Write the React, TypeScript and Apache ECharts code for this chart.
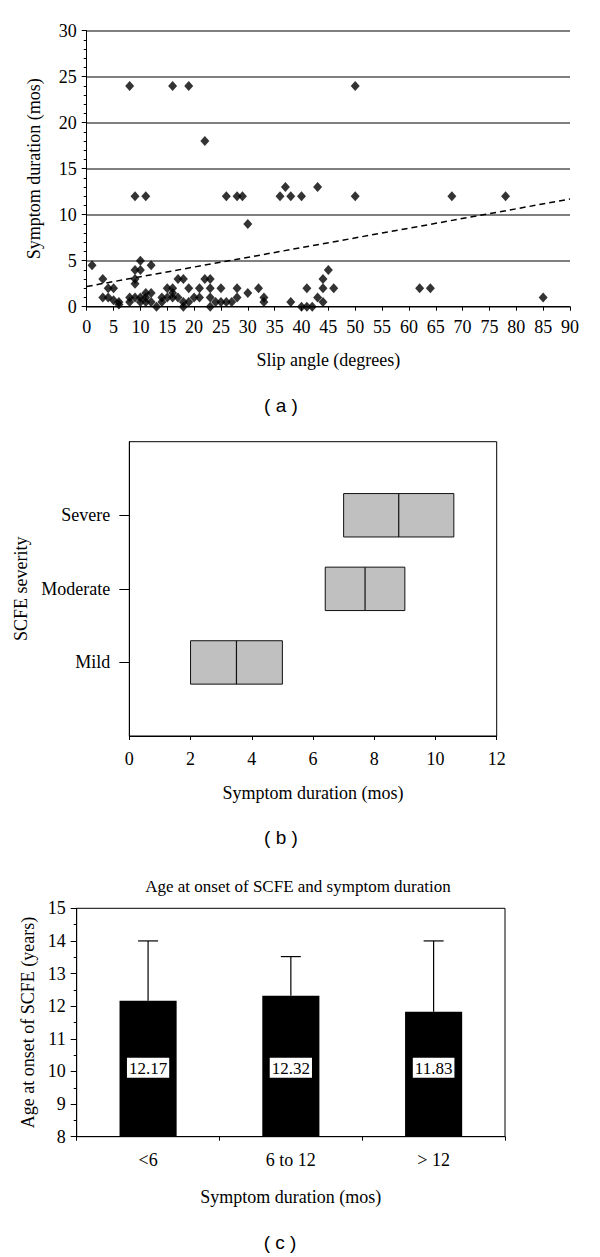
import React, { useEffect, useRef } from "react";
import * as echarts from "echarts";

// ---- Panel (a): slip angle vs symptom duration ----
const slipAngle = [
  8, 16, 19, 50, 22, 37, 43, 9, 11, 26, 28, 29, 36, 38, 40, 50, 68, 78, 30,
  1, 3, 4, 5, 3, 4, 5, 6, 6, 8, 8, 9, 10, 10, 9, 9, 12, 9, 10, 11, 10, 11, 11, 12, 12,
  13, 14, 14, 15, 16, 17, 18, 15, 16, 16, 17, 18, 18, 19, 19, 20, 21, 21,
  22, 23, 23, 23, 23, 24, 25, 25, 26, 27, 28, 28, 30, 32, 33, 33,
  38, 40, 41, 42, 41, 43, 44, 44, 44, 45, 46, 62, 64, 85,
];
const durationMos = [
  24, 24, 24, 24, 18, 13, 13, 12, 12, 12, 12, 12, 12, 12, 12, 12, 12, 12, 9,
  4.5, 3, 2, 2, 1, 1, 0.7, 0.5, 0.25, 0.5, 1, 4, 4, 5, 3, 2.5, 4.5, 1, 1, 1, 0.5, 0.5, 1.5, 1.5, 0.5,
  0, 0.5, 1, 2, 2, 3, 3, 1, 1.5, 1, 1, 0.5, 0, 2, 0.5, 1, 2, 1,
  3, 3, 2, 1, 0, 0.5, 2, 0.5, 0.5, 0.5, 2, 1, 1.5, 2, 1, 0.5,
  0.5, 0, 0, 0, 2, 1, 0.5, 2, 3, 4, 2, 2, 2, 1,
];
const trendX = [0, 90];
const trendY = [2.2, 11.7];

// ---- Panel (b): SCFE severity boxes ----
const severityLabels = ["Mild", "Moderate", "Severe"];
const severityPos = [1, 2, 3];
const boxQ1 = [2, 6.4, 7];
const boxMedian = [3.5, 7.7, 8.8];
const boxQ3 = [5, 9, 10.6];

// ---- Panel (c): age at onset ----
const durationGroups = ["<6", "6 to 12", "> 12"];
const meanAge = [12.17, 12.32, 11.83];
const upperAge = [14, 13.52, 14];

const SERIF = "'Liberation Serif', 'Times New Roman', serif";
const SANS = "'Liberation Sans', Arial, sans-serif";

export default function App() {
  const ref = useRef<HTMLDivElement>(null);

  useEffect(() => {
    if (!ref.current) return;
    const chart = echarts.init(ref.current, undefined, { renderer: "svg" });

    const scatterData = slipAngle.map((x, i) => [x, durationMos[i]]);
    const trendData = trendX.map((x, i) => [x, trendY[i]]);
    const boxData = severityPos.map((p, i) => [boxQ1[i], boxMedian[i], boxQ3[i], p]);
    const errData = durationGroups.map((_, i) => [i, meanAge[i], upperAge[i]]);

    const axisText = { color: "#000", fontFamily: SERIF, fontSize: 18 };
    const nameText = { color: "#000", fontFamily: SERIF, fontSize: 18 };

    const option: any = {
      animation: false,
      backgroundColor: "#fff",
      title: [
        {
          text: "Age at onset of SCFE and symptom duration",
          left: 293,
          top: 873,
          textAlign: "center",
          textStyle: { color: "#000", fontFamily: SERIF, fontSize: 17, fontWeight: "normal" },
        },
      ],
      graphic: [
        { type: "text", x: 281, y: 405, style: { text: "( a )", font: `19px ${SANS}`, fill: "#000", align: "center", verticalAlign: "middle" } },
        { type: "text", x: 281, y: 837, style: { text: "( b )", font: `19px ${SANS}`, fill: "#000", align: "center", verticalAlign: "middle" } },
        { type: "text", x: 280, y: 1242, style: { text: "( c )", font: `19px ${SANS}`, fill: "#000", align: "center", verticalAlign: "middle" } },
      ],
      grid: [
        { left: 86.7, top: 30.7, width: 483.3, height: 276, containLabel: false },
        { left: 129.3, top: 441.7, width: 367.4, height: 294.3, show: true, borderColor: "#000", borderWidth: 1, containLabel: false },
        { left: 76.7, top: 908.3, width: 428.3, height: 228.4, show: true, borderColor: "#000", borderWidth: 1, containLabel: false },
      ],
      xAxis: [
        {
          gridIndex: 0,
          type: "value",
          min: 0,
          max: 90,
          interval: 5,
          name: "Slip angle (degrees)",
          nameLocation: "middle",
          nameGap: 44,
          nameTextStyle: nameText,
          axisLine: { show: true, lineStyle: { color: "#000", width: 1 } },
          axisTick: { show: true, length: 4, lineStyle: { color: "#000" } },
          axisLabel: { ...axisText, fontSize: 18, margin: 11 },
          splitLine: { show: false },
        },
        {
          gridIndex: 1,
          type: "value",
          min: 0,
          max: 12,
          interval: 2,
          name: "Symptom duration (mos)",
          nameLocation: "middle",
          nameGap: 48,
          nameTextStyle: nameText,
          axisLine: { show: true, lineStyle: { color: "#000", width: 1 } },
          axisTick: { show: true, length: 4, lineStyle: { color: "#000" } },
          axisLabel: { ...axisText, margin: 14 },
          splitLine: { show: false },
        },
        {
          gridIndex: 2,
          type: "category",
          data: durationGroups,
          boundaryGap: true,
          name: "Symptom duration (mos)",
          nameLocation: "middle",
          nameGap: 51,
          nameTextStyle: nameText,
          axisLine: { show: true, lineStyle: { color: "#000", width: 1 } },
          axisTick: { show: true, length: 4, interval: 0, lineStyle: { color: "#000" } },
          axisLabel: { ...axisText, margin: 14, interval: 0 },
          splitLine: { show: false },
        },
      ],
      yAxis: [
        {
          gridIndex: 0,
          type: "value",
          min: 0,
          max: 30,
          interval: 5,
          name: "Symptom duration (mos)",
          nameLocation: "middle",
          nameGap: 44,
          nameTextStyle: nameText,
          axisLine: { show: true, lineStyle: { color: "#000", width: 1 } },
          axisTick: { show: true, length: 5, lineStyle: { color: "#000" } },
          minorTick: { show: true, splitNumber: 5, length: 3, lineStyle: { color: "#000" } },
          axisLabel: { ...axisText, margin: 10 },
          splitLine: { show: true, lineStyle: { color: "#555", width: 1.5 } },
        },
        {
          gridIndex: 1,
          type: "value",
          min: 0,
          max: 4,
          interval: 1,
          name: "SCFE severity",
          nameLocation: "middle",
          nameGap: 86,
          nameTextStyle: nameText,
          axisLine: { show: true, lineStyle: { color: "#000", width: 1 } },
          axisTick: { show: true, length: 10, customValues: severityPos, lineStyle: { color: "#000" } },
          axisLabel: {
            ...axisText,
            margin: 19,
            customValues: severityPos,
            formatter: (v: number) => severityLabels[Math.round(v) - 1] ?? "",
          },
          splitLine: { show: false },
        },
        {
          gridIndex: 2,
          type: "value",
          min: 8,
          max: 15,
          interval: 1,
          name: "Age at onset of SCFE (years)",
          nameLocation: "middle",
          nameGap: 40,
          nameTextStyle: nameText,
          axisLine: { show: true, lineStyle: { color: "#000", width: 1 } },
          axisTick: { show: true, length: 6, lineStyle: { color: "#000" } },
          minorTick: { show: true, splitNumber: 2, length: 3, lineStyle: { color: "#000" } },
          axisLabel: { ...axisText, margin: 11 },
          splitLine: { show: false },
        },
      ],
      series: [
        {
          type: "scatter",
          xAxisIndex: 0,
          yAxisIndex: 0,
          data: scatterData,
          symbol: "diamond",
          symbolSize: [9, 10],
          itemStyle: { color: "#000" },
          clip: false,
        },
        {
          type: "line",
          xAxisIndex: 0,
          yAxisIndex: 0,
          data: trendData,
          symbol: "none",
          lineStyle: { color: "#000", width: 1.5, type: [6, 4] },
        },
        {
          type: "custom",
          xAxisIndex: 1,
          yAxisIndex: 1,
          data: boxData,
          encode: { x: [0, 1, 2], y: 3 },
          renderItem: (_params: any, api: any) => {
            const q1 = api.value(0);
            const med = api.value(1);
            const q3 = api.value(2);
            const yv = api.value(3);
            const a = api.coord([q1, yv]);
            const b = api.coord([q3, yv]);
            const m = api.coord([med, yv]);
            const h = api.size([0, 0.59])[1];
            return {
              type: "group",
              children: [
                {
                  type: "rect",
                  shape: { x: a[0], y: a[1] - h / 2, width: b[0] - a[0], height: h },
                  style: { fill: "#c0c0c0", stroke: "#111", lineWidth: 1 },
                },
                {
                  type: "line",
                  shape: { x1: m[0], y1: m[1] - h / 2, x2: m[0], y2: m[1] + h / 2 },
                  style: { stroke: "#111", lineWidth: 1.2 },
                },
              ],
            };
          },
        },
        {
          type: "bar",
          xAxisIndex: 2,
          yAxisIndex: 2,
          data: meanAge,
          barWidth: "40%",
          itemStyle: { color: "#000" },
          z: 2,
          label: {
            show: true,
            position: "insideBottom",
            distance: 59,
            formatter: (p: any) => Number(p.value).toFixed(2),
            color: "#000",
            fontFamily: SERIF,
            fontSize: 17,
            backgroundColor: "#fff",
            borderColor: "#000",
            borderWidth: 1,
            padding: [2, 2, 1, 2],
          },
        },
        {
          type: "custom",
          xAxisIndex: 2,
          yAxisIndex: 2,
          data: errData,
          encode: { x: 0, y: [1, 2] },
          z: 3,
          renderItem: (_params: any, api: any) => {
            const idx = api.value(0);
            const lo = api.coord([idx, api.value(1)]);
            const hi = api.coord([idx, api.value(2)]);
            const hw = 10;
            return {
              type: "group",
              children: [
                { type: "line", shape: { x1: lo[0], y1: lo[1], x2: hi[0], y2: hi[1] }, style: { stroke: "#000", lineWidth: 1.2 } },
                { type: "line", shape: { x1: hi[0] - hw, y1: hi[1], x2: hi[0] + hw, y2: hi[1] }, style: { stroke: "#000", lineWidth: 1.2 } },
              ],
            };
          },
        },
      ],
    };

    chart.setOption(option);
    return () => {
      chart.dispose();
    };
  }, []);

  return (
    <div
      ref={ref}
      style={{ position: "absolute", left: 0, top: 0, width: 600, height: 1257, background: "#fff" }}
    />
  );
}
